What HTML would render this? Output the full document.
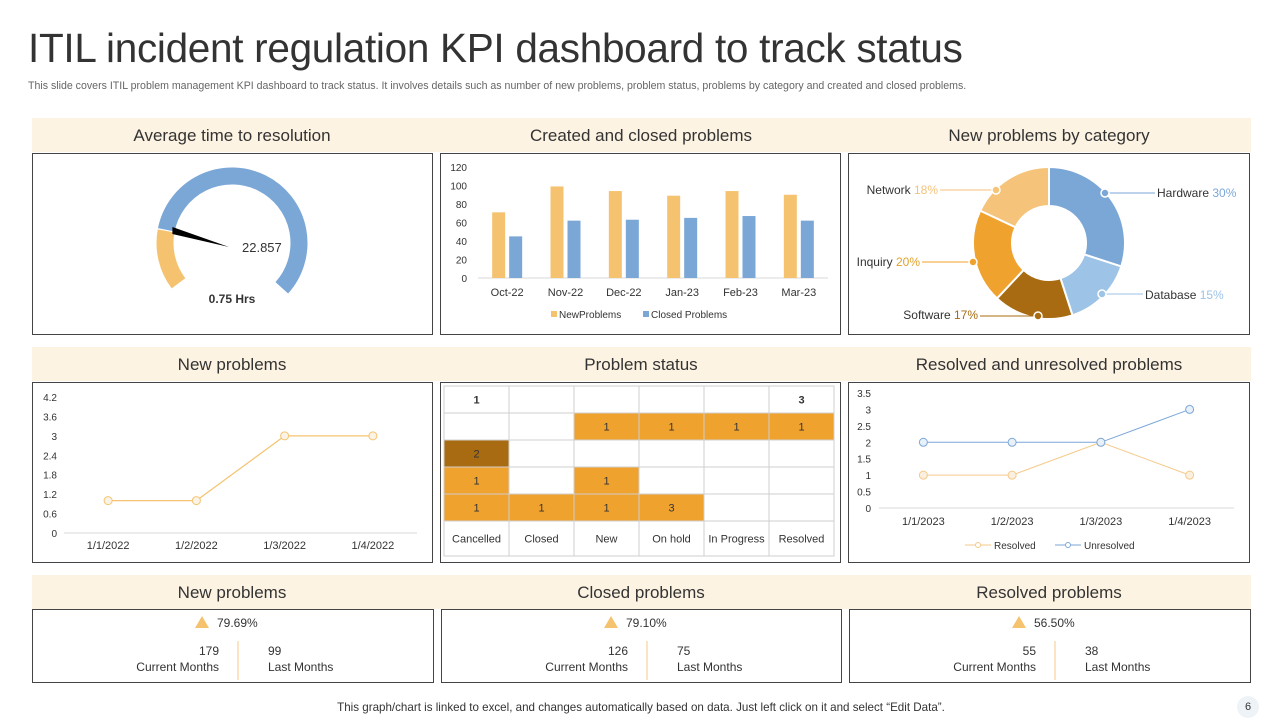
<!DOCTYPE html>
<html><head><meta charset="utf-8"><style>
*{margin:0;padding:0;box-sizing:border-box}
body{width:1280px;height:720px;background:#fff;font-family:"Liberation Sans",sans-serif;position:relative;overflow:hidden;color:#333}
.abs{position:absolute}
.hdr{position:absolute;background:#fdf3e2;height:34px}
.ht{position:absolute;font-size:17px;color:#333;text-align:center;width:400px}
.box{position:absolute;border:1px solid #444;background:#fff}
svg text{font-family:"Liberation Sans",sans-serif}
</style></head><body>
<div class="abs" style="left:28px;top:25px;font-size:40.5px;color:#333;letter-spacing:-0.3px">ITIL incident regulation KPI dashboard to track status</div>
<div class="abs" style="left:28px;top:80px;font-size:10.6px;color:#666">This slide covers ITIL problem management KPI  dashboard to track status. It involves details such as number of new problems, problem status, problems by category and created and closed problems.</div>

<div class="hdr" style="left:32px;top:118px;width:1219px"></div>
<div class="hdr" style="left:32px;top:347px;width:1219px"></div>
<div class="hdr" style="left:32px;top:575px;width:1219px"></div>

<div class="ht" style="left:32px;top:126px">Average time to resolution</div>
<div class="ht" style="left:441px;top:126px">Created and closed problems</div>
<div class="ht" style="left:849px;top:126px">New problems by category</div>
<div class="ht" style="left:32px;top:355px">New problems</div>
<div class="ht" style="left:441px;top:355px">Problem status</div>
<div class="ht" style="left:849px;top:355px">Resolved and unresolved problems</div>
<div class="ht" style="left:32px;top:583px">New problems</div>
<div class="ht" style="left:441px;top:583px">Closed problems</div>
<div class="ht" style="left:849px;top:583px">Resolved problems</div>

<div class="box" style="left:32px;top:153px;width:401px;height:182px"></div>
<div class="box" style="left:440px;top:153px;width:401px;height:182px"></div>
<div class="box" style="left:848px;top:153px;width:402px;height:182px"></div>
<div class="box" style="left:32px;top:382px;width:401px;height:181px"></div>
<div class="box" style="left:440px;top:382px;width:401px;height:181px"></div>
<div class="box" style="left:848px;top:382px;width:402px;height:181px"></div>
<div class="box" style="left:32px;top:609px;width:402px;height:74px"></div>
<div class="box" style="left:441px;top:609px;width:401px;height:74px"></div>
<div class="box" style="left:849px;top:609px;width:402px;height:74px"></div>

<svg id="main" class="abs" style="left:0;top:0" width="1280" height="720"></svg>

<div class="abs" style="left:0;width:1282px;text-align:center;top:701px;font-size:11.6px;color:#333">This graph/chart is linked to excel,  and changes automatically based on data. Just left click on it and select “Edit Data”.</div>
<div class="abs" style="left:1237px;top:696px;width:22px;height:22px;border-radius:11px;background:#eef3f8;font-size:11px;text-align:center;line-height:22px;color:#333">6</div>

<script>
const NS='http://www.w3.org/2000/svg';
const svg=document.getElementById('main');
function mk(tag,attrs,parent){const e=document.createElementNS(NS,tag);for(const k in attrs)e.setAttribute(k,attrs[k]);(parent||svg).appendChild(e);return e;}
function tx(x,y,s,attrs){const e=mk('text',Object.assign({x:x,y:y,'font-size':11,fill:'#333'},attrs||{}));e.textContent=s;return e;}

// ---------- Data ----------
const gaugeValue=22.857;
const gaugeMax=100;
const gaugeLabel='0.75 Hrs';
const barCats=['Oct-22','Nov-22','Dec-22','Jan-23','Feb-23','Mar-23'];
const newProblems=[71,99,94,89,94,90];
const closedProblems=[45,62,63,65,67,62];
const barTicks=[0,20,40,60,80,100,120];
const donutCats=['Hardware','Database','Software','Inquiry','Network'];
const donutVals=[30,15,17,20,18];
const lineCats=['1/1/2022','1/2/2022','1/3/2022','1/4/2022'];
const lineVals=[1,1,3,3];
const lineTicks=[0,0.6,1.2,1.8,2.4,3,3.6,4.2];
const resCats=['1/1/2023','1/2/2023','1/3/2023','1/4/2023'];
const resolvedVals=[1,1,2,1];
const unresolvedVals=[2,2,2,3];
const resTicks=[0,0.5,1,1.5,2,2.5,3,3.5];
const statusCols=['Cancelled','Closed','New','On hold','In Progress','Resolved'];
const statusRows=[[1,null,null,null,null,3],[null,null,1,1,1,1],[2,null,null,null,null,null],[1,null,1,null,null,null],[1,1,1,3,null,null]];

// ---------- Gauge ----------
(function(){
 const cx=232,cy=243,r=67,w=17,a0=217,a1=-42;
 const pt=(a,rr)=>[cx+rr*Math.cos(a*Math.PI/180),cy-rr*Math.sin(a*Math.PI/180)];
 function arc(s,e,col,name){const p=pt(s,r),q=pt(e,r);const large=(s-e)>180?1:0;
  const el=mk('path',{d:`M${p[0]},${p[1]} A${r},${r} 0 ${large} 1 ${q[0]},${q[1]}`,fill:'none',stroke:col,'stroke-width':w});
  }
 const split=a0-(a0-a1)*(gaugeValue/gaugeMax)*0.8;
 arc(a0,split,'#f5c370','gauge-value-arc');
 arc(split-1,a1,'#7ba7d7','gauge-remaining-arc');
 const tip=pt(split-2,r-6);
 const n=mk('polygon',{points:`${tip[0]},${tip[1]-3} ${tip[0]},${tip[1]+4} ${cx-3},${cy+4}`,fill:'#000'});
 
 const t=tx(242,252,String(gaugeValue),{'font-size':13});
 const l=tx(232,303,gaugeLabel,{'font-size':12,'font-weight':'bold','text-anchor':'middle'});
})();

// ---------- Bar chart ----------
(function(){
 const y0=278,yTop=167,max=120,x0=478,x1=828;
 const Y=v=>y0-(y0-yTop)*v/max;
 const step=(x1-x0)/barCats.length;
 const X=i=>x0+step*(i+0.5);
 barTicks.forEach(t=>{const e=tx(467,Y(t)+4,String(t),{'font-size':10,'text-anchor':'end'});});
 mk('line',{x1:x0,x2:x1,y1:y0,y2:y0,stroke:'#d9d9d9'});
 barCats.forEach((c,i)=>{
  const a=mk('rect',{x:X(i)-15,y:Y(newProblems[i]),width:13,height:y0-Y(newProblems[i]),fill:'#f5c370'});
  
  const b=mk('rect',{x:X(i)+2,y:Y(closedProblems[i]),width:13,height:y0-Y(closedProblems[i]),fill:'#7ba7d7'});
  
  const t=tx(X(i),296,c,{'font-size':11,'text-anchor':'middle'});
 });
 mk('rect',{x:551,y:311,width:6,height:6,fill:'#f5c370'});
 const l1=tx(559,318,'NewProblems',{'font-size':10});
 mk('rect',{x:643,y:311,width:6,height:6,fill:'#7ba7d7'});
 const l2=tx(651,318,'Closed Problems',{'font-size':10});
})();

// ---------- Donut ----------
(function(){
 const cx=1049,cy=243,R=76,r=37;
 const cols=['#7ba7d7','#9dc3e6','#a86b12','#f0a22e','#f5c37a'];
 const pctCol=['#7ba7d7','#9dc3e6','#a86b12','#e0a22e','#f5c37a'];
 const total=donutVals.reduce((a,b)=>a+b,0);
 const P=(a,rr)=>[cx+rr*Math.sin(a),cy-rr*Math.cos(a)];
 const labelPos=[[1157,197,'start',1105,193,1155],[1145,299,'start',1102,294,1143],[978,319,'end',1038,316,980],[920,266,'end',973,262,922],[938,194,'end',996,190,940]];
 let acc=0;
 donutCats.forEach((c,i)=>{
  const s=acc/total*2*Math.PI,e=(acc+donutVals[i])/total*2*Math.PI;acc+=donutVals[i];
  const large=(e-s)>Math.PI?1:0;
  const p1=P(s,R),p2=P(e,R),p3=P(e,r),p4=P(s,r);
  const sl=mk('path',{d:`M${p1[0]},${p1[1]} A${R},${R} 0 ${large} 1 ${p2[0]},${p2[1]} L${p3[0]},${p3[1]} A${r},${r} 0 ${large} 0 ${p4[0]},${p4[1]}Z`,fill:cols[i],stroke:'#fff','stroke-width':2});
  
  const L=labelPos[i];
  mk('line',{x1:L[3],y1:L[4],x2:L[5],y2:L[4],stroke:cols[i]});
  mk('circle',{cx:L[3],cy:L[4],r:4,fill:cols[i],stroke:'#fff','stroke-width':1.5});
  const t=mk('text',{x:L[0],y:L[1],'font-size':12,'text-anchor':L[2],fill:'#333'});
  
  const s1=document.createElementNS(NS,'tspan');s1.textContent=c+' ';t.appendChild(s1);
  const s2=document.createElementNS(NS,'tspan');s2.setAttribute('fill',pctCol[i]);s2.textContent=donutVals[i]+'%';t.appendChild(s2);
 });
})();

// ---------- New problems line ----------
(function(){
 const y0=533,yTop=397,max=4.2,x0=64,x1=417;
 const Y=v=>y0-(y0-yTop)*v/max;
 const step=(x1-x0)/lineCats.length;const X=i=>x0+step*(i+0.5);
 lineTicks.forEach(t=>{const e=tx(57,Y(t)+4,String(t),{'font-size':10,'text-anchor':'end'});});
 mk('line',{x1:x0,x2:x1,y1:y0,y2:y0,stroke:'#d9d9d9'});
 const pl=mk('polyline',{points:lineVals.map((v,i)=>X(i)+','+Y(v)).join(' '),fill:'none',stroke:'#f5c370','stroke-width':1.2});
 
 lineVals.forEach((v,i)=>{const c=mk('circle',{cx:X(i),cy:Y(v),r:4,fill:'#fbf3e6',stroke:'#f5c370'});
  const t=tx(X(i),549,lineCats[i],{'font-size':11,'text-anchor':'middle'});});
})();

// ---------- Resolved / unresolved ----------
(function(){
 const y0=508,yTop=393,max=3.5,x0=879,x1=1234;
 const Y=v=>y0-(y0-yTop)*v/max;
 const step=(x1-x0)/resCats.length;const X=i=>x0+step*(i+0.5);
 resTicks.forEach(t=>{const e=tx(871,Y(t)+4,String(t),{'font-size':10,'text-anchor':'end'});});
 mk('line',{x1:x0,x2:x1,y1:y0,y2:y0,stroke:'#d9d9d9'});
 [[resolvedVals,'#f5c98a','#fbf0e0','resolved'],[unresolvedVals,'#7ba7d7','#e8f0f9','unresolved']].forEach(([vals,col,fc,nm])=>{
  const pl=mk('polyline',{points:vals.map((v,i)=>X(i)+','+Y(v)).join(' '),fill:'none',stroke:col,'stroke-width':1});
  
  vals.forEach((v,i)=>{const c=mk('circle',{cx:X(i),cy:Y(v),r:4,fill:fc,stroke:col});});
 });
 resCats.forEach((c,i)=>{const t=tx(X(i),525,c,{'font-size':11,'text-anchor':'middle'});});
 mk('line',{x1:965,x2:991,y1:545,y2:545,stroke:'#f5c98a'});mk('circle',{cx:978,cy:545,r:2.5,fill:'#fff',stroke:'#f5c98a'});
 const a=tx(994,549,'Resolved',{'font-size':10});
 mk('line',{x1:1055,x2:1081,y1:545,y2:545,stroke:'#7ba7d7'});mk('circle',{cx:1068,cy:545,r:2.5,fill:'#fff',stroke:'#7ba7d7'});
 const b=tx(1084,549,'Unresolved',{'font-size':10});
})();

// ---------- Heatmap ----------
(function(){
 const gx=444,gy=386,cw=65,rh=27,lh=35;
 const cols=['#f0a22e','#a86b12'];
 statusRows.forEach((row,ri)=>row.forEach((v,ci)=>{
  const x=gx+ci*cw,y=gy+ri*rh;
  const fill=(ri===0||v===null)?'#fff':(v===2?cols[1]:cols[0]);
  const c=mk('rect',{x:x,y:y,width:cw,height:rh,fill:fill,stroke:'#cfcfcf','stroke-width':1});
  
  if(v!==null){const t=tx(x+cw/2,y+rh/2+4,String(v),{'font-size':11,'text-anchor':'middle','font-weight':ri===0?'bold':'normal'});}
 }));
 statusCols.forEach((c,ci)=>{const x=gx+ci*cw,y=gy+statusRows.length*rh;
  mk('rect',{x:x,y:y,width:cw,height:lh,fill:'#fff',stroke:'#cfcfcf'});
  const t=tx(x+cw/2,y+lh/2+4,c,{'font-size':11,'text-anchor':'middle'});});
})();

// ---------- KPI cards ----------
const kpiPct=['79.69%','79.10%','56.50%'];
const kpiCur=[179,126,55];
const kpiLast=[99,75,38];
(function(){
 const lefts=[32,441,849];
 lefts.forEach((L,i)=>{
  const cxp=L+200;const mid=L+206;
  mk('polygon',{points:`${cxp-37},${628} ${cxp-30},${616} ${cxp-23},${628}`,fill:'#f5c370'});
  const p=tx(cxp-15,627,kpiPct[i],{'font-size':12});
  mk('line',{x1:mid,x2:mid,y1:641,y2:680,stroke:'#f5c98a'});
  const a=tx(mid-19,655,String(kpiCur[i]),{'font-size':12,'text-anchor':'end'});
  const b=tx(mid-19,671,'Current  Months',{'font-size':12,'text-anchor':'end'});
  const c=tx(mid+30,655,String(kpiLast[i]),{'font-size':12});
  const d=tx(mid+30,671,'Last Months',{'font-size':12});
 });
})();
</script>
</body></html>
